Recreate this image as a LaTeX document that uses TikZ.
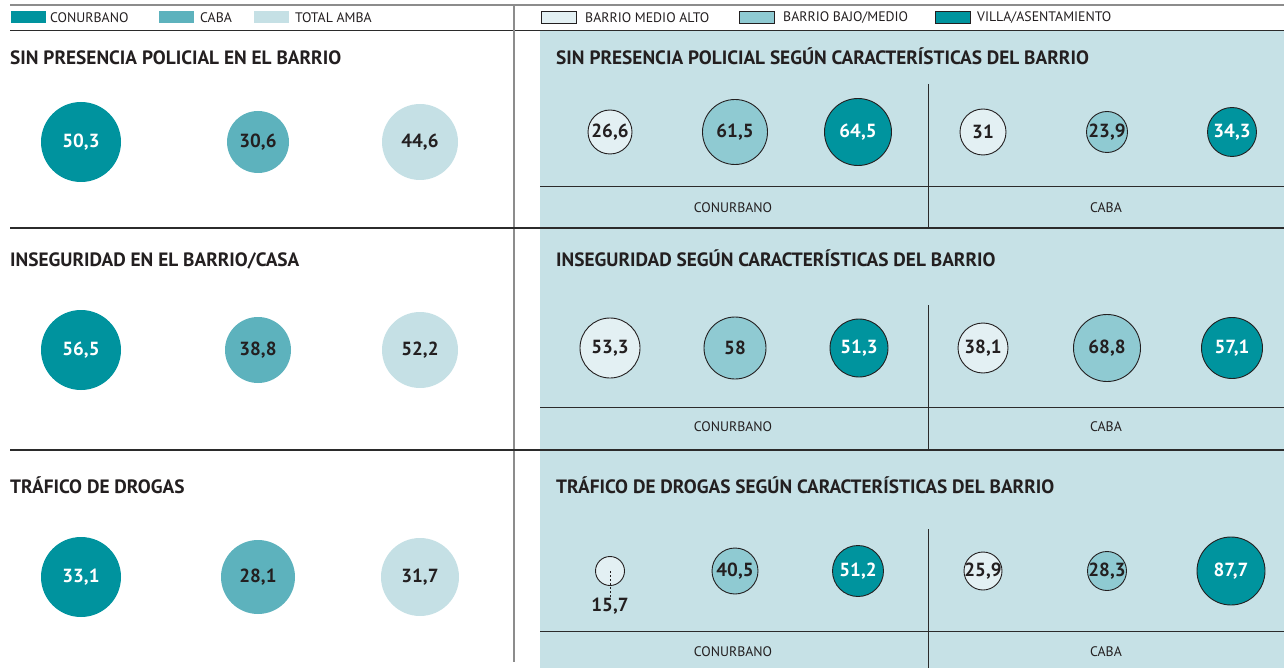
\documentclass[tikz,border=0pt]{standalone}
\usepackage{fontspec}
\setmainfont{PT Sans}
\definecolor{conur}{HTML}{00939E}
\definecolor{caba}{HTML}{5DB2BD}
\definecolor{amba}{HTML}{C5E0E5}
\definecolor{panel}{HTML}{C6E1E6}
\definecolor{alto}{HTML}{E3F0F3}
\definecolor{bajo}{HTML}{8FCAD2}
\definecolor{villa}{HTML}{00949E}
\definecolor{ink}{HTML}{231F20}
\definecolor{rule}{HTML}{2B2B2B}
\definecolor{grayrule}{HTML}{8C8C8C}
\begin{document}
\begin{tikzpicture}[x=1pt,y=-1pt,
  swatch/.style={minimum width=35pt,minimum height=12pt,inner sep=0,anchor=west},
  legtxt/.style={anchor=west,inner sep=0,text=ink,font=\fontsize{13.8}{14}\selectfont},
  title/.style={anchor=base west,inner sep=0,text=ink,font=\bfseries\fontsize{19.3}{20}\selectfont},
  lbub/.style={circle,inner sep=0},
  rbub/.style={circle,inner sep=0,draw=ink,line width=0.9pt},
  num/.style={inner sep=0,text=ink,font=\bfseries\fontsize{19}{19}\selectfont},
  numw/.style={num,text=white},
  grp/.style={inner sep=0,text=ink,font=\fontsize{13.8}{14}\selectfont},
  thin/.style={draw=rule,line width=0.8pt},
  thick/.style={draw=rule,line width=1.8pt}]
\useasboundingbox (0,0) rectangle (1284,668);
% panels
\fill[panel] (540,31) rectangle (1284,227);
\fill[panel] (540,229) rectangle (1284,449);
\fill[panel] (540,451) rectangle (1284,668);
% frame lines
\draw[grayrule,line width=1.2pt] (10,5) -- (1284,5);
\draw[rule,line width=0.9pt] (10,30) -- (1284,30);
\draw[grayrule,line width=1.3pt] (514,5) -- (514,662);
\draw[thick] (10,228) -- (1284,228);
\draw[thick] (10,450) -- (1284,450);
% inner dividers
\draw[thin] (928,84) -- (928,228);
\draw[thin] (540,186) -- (1284,186);
\draw[thin] (928,305) -- (928,450);
\draw[thin] (540,407) -- (1284,407);
\draw[thin] (928,529) -- (928,668);
\draw[thin] (540,631) -- (1284,631);
% legend left
\node[swatch,fill=conur] (sw1) at (11,17) {};
\node[legtxt] (lg1) at (50,17.5) {CONURBANO};
\node[swatch,fill=caba] (sw2) at (159,17) {};
\node[legtxt] (lg2) at (200,17.5) {CABA};
\node[swatch,fill=amba] (sw3) at (254,17) {};
\node[legtxt] (lg3) at (295,17.5) {TOTAL AMBA};
% legend right
\node[swatch,fill=alto,draw=ink,line width=0.8pt] (sw4) at (541,17) {};
\node[legtxt] (lg4) at (585,17.5) {BARRIO MEDIO ALTO};
\node[swatch,fill=bajo,draw=ink,line width=0.8pt] (sw5) at (739,17) {};
\node[legtxt] (lg5) at (783,17.5) {BARRIO BAJO/MEDIO};
\node[swatch,fill=villa,draw=ink,line width=0.8pt] (sw6) at (935,17) {};
\node[legtxt] (lg6) at (977,17.5) {VILLA/ASENTAMIENTO};
% titles
\node[title] (t1) at (10,65) {SIN PRESENCIA POLICIAL EN EL BARRIO};
\node[title] (t2) at (556,65) {SIN PRESENCIA POLICIAL SEGÚN CARACTERÍSTICAS DEL BARRIO};
\node[title] (t3) at (10,266) {INSEGURIDAD EN EL BARRIO/CASA};
\node[title] (t4) at (556,266) {INSEGURIDAD SEGÚN CARACTERÍSTICAS DEL BARRIO};
\node[title] (t5) at (10,493) {TRÁFICO DE DROGAS};
\node[title] (t6) at (556,493) {TRÁFICO DE DROGAS SEGÚN CARACTERÍSTICAS DEL BARRIO};
% group labels
\node[grp] (g1) at (733,208) {CONURBANO};
\node[grp] (g2) at (1106,208) {CABA};
\node[grp] (g3) at (733,427) {CONURBANO};
\node[grp] (g4) at (1106,427) {CABA};
\node[grp] (g5) at (733,652) {CONURBANO};
\node[grp] (g6) at (1106,652) {CABA};
% row 1 left
\node[lbub,fill=conur,minimum size=80pt] (a1) at (81,142) {};
\node[numw] (a1t) at (a1) {50,3};
\node[lbub,fill=caba,minimum size=62pt] (a2) at (258,142) {};
\node[num] (a2t) at (a2) {30,6};
\node[lbub,fill=amba,minimum size=76pt] (a3) at (420,142) {};
\node[num] (a3t) at (a3) {44,6};
% row 1 right
\node[rbub,fill=alto,minimum size=44pt] (b1) at (610,132) {};
\node[num] (b1t) at (b1) {26,6};
\node[rbub,fill=bajo,minimum size=65pt] (b2) at (735,132) {};
\node[num] (b2t) at (b2) {61,5};
\node[rbub,fill=villa,minimum size=67pt] (b3) at (858,132) {};
\node[numw] (b3t) at (b3) {64,5};
\node[rbub,fill=alto,minimum size=46pt] (b4) at (983,132) {};
\node[num] (b4t) at (b4) {31};
\node[rbub,fill=bajo,minimum size=41pt] (b5) at (1107,132) {};
\node[num] (b5t) at (b5) {23,9};
\node[rbub,fill=villa,minimum size=49pt] (b6) at (1232,132) {};
\node[numw] (b6t) at (b6) {34,3};
% row 2 left
\node[lbub,fill=conur,minimum size=80pt] (c1) at (81,350) {};
\node[numw] (c1t) at (c1) {56,5};
\node[lbub,fill=caba,minimum size=66pt] (c2) at (258,350) {};
\node[num] (c2t) at (c2) {38,8};
\node[lbub,fill=amba,minimum size=76pt] (c3) at (420,350) {};
\node[num] (c3t) at (c3) {52,2};
% row 2 right
\node[rbub,fill=alto,minimum size=60pt] (d1) at (610,348) {};
\node[num] (d1t) at (d1) {53,3};
\node[rbub,fill=bajo,minimum size=62pt] (d2) at (735,348) {};
\node[num] (d2t) at (d2) {58};
\node[rbub,fill=villa,minimum size=58pt] (d3) at (859,348) {};
\node[numw] (d3t) at (d3) {51,3};
\node[rbub,fill=alto,minimum size=50pt] (d4) at (983,348) {};
\node[num] (d4t) at (d4) {38,1};
\node[rbub,fill=bajo,minimum size=67pt] (d5) at (1107,348) {};
\node[num] (d5t) at (d5) {68,8};
\node[rbub,fill=villa,minimum size=61pt] (d6) at (1232,348) {};
\node[numw] (d6t) at (d6) {57,1};
% row 3 left
\node[lbub,fill=conur,minimum size=80pt] (e1) at (81,577) {};
\node[numw] (e1t) at (e1) {33,1};
\node[lbub,fill=caba,minimum size=74pt] (e2) at (258,577) {};
\node[num] (e2t) at (e2) {28,1};
\node[lbub,fill=amba,minimum size=78pt] (e3) at (420,577) {};
\node[num] (e3t) at (e3) {31,7};
% row 3 right
\node[rbub,fill=alto,minimum size=29pt] (f1) at (610,571) {};
\node[num] (f1t) at (610,606) {15,7};
\draw[ink,line width=0.8pt,dash pattern=on 2pt off 2pt] (f1.center) -- (f1t.north);
\node[rbub,fill=bajo,minimum size=46pt] (f2) at (735,571) {};
\node[num] (f2t) at (f2) {40,5};
\node[rbub,fill=villa,minimum size=51pt] (f3) at (858,571) {};
\node[numw] (f3t) at (f3) {51,2};
\node[rbub,fill=alto,minimum size=38pt] (f4) at (983,571) {};
\node[num] (f4t) at (f4) {25,9};
\node[rbub,fill=bajo,minimum size=39pt] (f5) at (1107,571) {};
\node[num] (f5t) at (f5) {28,3};
\node[rbub,fill=villa,minimum size=68pt] (f6) at (1231,571) {};
\node[numw] (f6t) at (f6) {87,7};
\end{tikzpicture}
\end{document}
